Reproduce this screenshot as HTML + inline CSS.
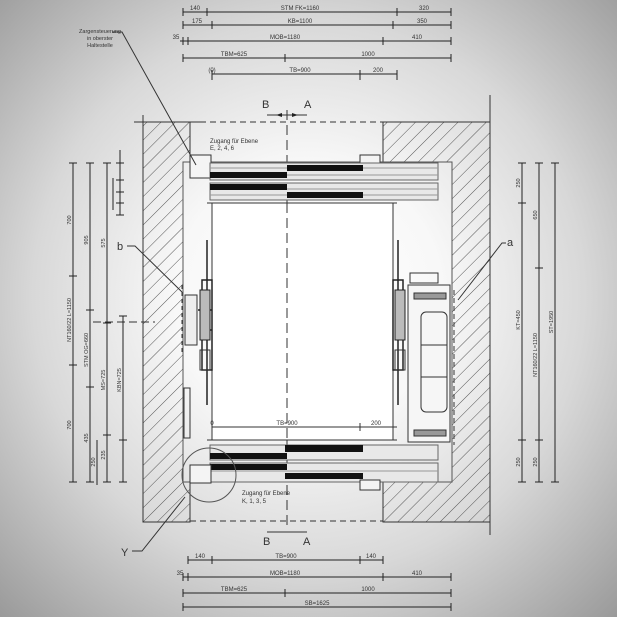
<!DOCTYPE html>
<html><head><meta charset="utf-8"><style>
html,body{margin:0;padding:0;width:617px;height:617px;overflow:hidden}
body{background:radial-gradient(ellipse 72% 72% at 50% 48%,#ffffff 0%,#f8f8f8 30%,#d8d8d8 62%,#9a9a9a 100%)}
svg{position:absolute;left:0;top:0}
text{font-family:"Liberation Sans",sans-serif;fill:#333}
</style></head><body>
<svg width="617" height="617" viewBox="0 0 617 617" xmlns="http://www.w3.org/2000/svg">
<defs>
<pattern id="h" patternUnits="userSpaceOnUse" width="10" height="10" patternTransform="rotate(45)">
<line x1="0" y1="0" x2="0" y2="10" stroke="#555" stroke-width="1"/>
</pattern>
<marker id="ar" markerWidth="6" markerHeight="4" refX="6" refY="2" orient="auto"><path d="M0,0 L6,2 L0,4z" fill="#222"/></marker>
</defs>
<g stroke="#333" stroke-width="1" fill="none">
<path d="M143,122 H190 V162 H183 V482 H190 V522 H143 Z" fill="url(#h)"/>
<path d="M383,122 H490 V522 H383 V482 H452 V162 H383 Z" fill="url(#h)"/>
<line x1="190" y1="122" x2="383" y2="122" stroke-dasharray="6,4"/>
<line x1="190" y1="521" x2="383" y2="521" stroke-dasharray="6,4"/>
<line x1="287" y1="110" x2="287" y2="530" stroke-dasharray="10,5"/>
<line x1="134" y1="122" x2="200" y2="122"/>
<line x1="143" y1="115" x2="143" y2="130"/>
<line x1="490" y1="95" x2="490" y2="122"/>
<line x1="490" y1="522" x2="490" y2="535"/>
<rect x="183" y="162" width="269" height="320" stroke="#555"/>
<rect x="190" y="155" width="21" height="23" fill="#f4f4f4"/>
<rect x="360" y="155" width="20" height="10" fill="#f4f4f4"/>
<rect x="210" y="163" width="228" height="17" fill="#e8e8e8" stroke="#666"/>
<line x1="210" y1="168" x2="438" y2="168" stroke="#999"/>
<line x1="210" y1="175" x2="438" y2="175" stroke="#999"/>
<rect x="210" y="172" width="77" height="6" fill="#111" stroke="none"/>
<rect x="287" y="165" width="76" height="6" fill="#111" stroke="none"/>
<rect x="210" y="183" width="228" height="17" fill="#e8e8e8" stroke="#666"/>
<line x1="210" y1="189" x2="438" y2="189" stroke="#999"/>
<line x1="210" y1="195" x2="438" y2="195" stroke="#999"/>
<rect x="210" y="184" width="77" height="6" fill="#111" stroke="none"/>
<rect x="287" y="192" width="76" height="6" fill="#111" stroke="none"/>
<line x1="207" y1="203" x2="397" y2="203"/>
<rect x="212" y="203" width="181" height="237" fill="#fff"/>
<line x1="287" y1="203" x2="287" y2="440" stroke-dasharray="10,5"/>
<path d="M207,240 V405 M202,280 H212 V370 H202 Z M198,310 H212 M200,330 H212" stroke="#222" stroke-width="1.5"/>
<rect x="200" y="290" width="10" height="50" fill="#bbb" stroke="#222"/>
<rect x="185" y="295" width="12" height="50" fill="#eee"/>
<line x1="182" y1="285" x2="182" y2="355" stroke-dasharray="4,3"/>
<rect x="200" y="350" width="10" height="20"/>
<path d="M398,240 V405 M393,280 H403 V370 H393 Z" stroke="#222" stroke-width="1.5"/>
<rect x="395" y="290" width="10" height="50" fill="#bbb" stroke="#222"/>
<rect x="395" y="350" width="10" height="20"/>
<rect x="408" y="285" width="42" height="157" fill="#f6f6f6"/>
<rect x="410" y="273" width="28" height="10"/>
<rect x="421" y="312" width="26" height="100" rx="5"/>
<line x1="421" y1="345" x2="447" y2="345"/>
<line x1="421" y1="377" x2="447" y2="377"/>
<rect x="414" y="293" width="32" height="6" fill="#999"/>
<rect x="414" y="430" width="32" height="6" fill="#999"/>
<line x1="454" y1="290" x2="454" y2="445" stroke-dasharray="5,3"/>
<rect x="184" y="388" width="6" height="50"/>
<line x1="212" y1="427" x2="397" y2="427"/>
<line x1="360" y1="423" x2="360" y2="431"/>
<line x1="207" y1="440" x2="397" y2="440"/>
<rect x="210" y="445" width="228" height="15" fill="#e8e8e8" stroke="#666"/>
<rect x="285" y="445" width="78" height="7" fill="#111" stroke="none"/>
<rect x="210" y="453" width="77" height="6" fill="#111" stroke="none"/>
<rect x="210" y="463" width="228" height="19" fill="#e8e8e8" stroke="#666"/>
<line x1="210" y1="471" x2="438" y2="471" stroke="#999"/>
<rect x="210" y="464" width="77" height="6" fill="#111" stroke="none"/>
<rect x="285" y="473" width="78" height="6" fill="#111" stroke="none"/>
<rect x="190" y="465" width="21" height="18" fill="#f4f4f4"/>
<rect x="360" y="480" width="20" height="10" fill="#f4f4f4"/>
<circle cx="209" cy="475" r="27" stroke="#555"/>
<path d="M112,32 H122 L196,165"/>
<path d="M127,246 H135 L182,292"/>
<path d="M506,243 H502 L458,300"/>
<path d="M132,551 H142 L185,497"/>
<line x1="93" y1="322" x2="155" y2="322" stroke-dasharray="8,4"/>
<line x1="267" y1="115" x2="307" y2="115"/>
<line x1="287" y1="115" x2="276" y2="115" marker-end="url(#ar)"/>
<line x1="287" y1="115" x2="298" y2="115" marker-end="url(#ar)"/>
<line x1="267" y1="532" x2="307" y2="532"/>
<g stroke="#222">
<line x1="183" y1="12" x2="451" y2="12"/><path d="M183,8V16M207,8V16M397,8V16M451,8V16"/>
<line x1="183" y1="25" x2="451" y2="25"/><path d="M183,21V29M212,21V29M393,21V29M451,21V29"/>
<line x1="180" y1="41" x2="451" y2="41"/><path d="M183,37V45M188,37V45M383,37V45M451,37V45"/>
<line x1="183" y1="58" x2="451" y2="58"/><path d="M183,54V62M285,54V62M451,54V62"/>
<line x1="212" y1="74" x2="397" y2="74"/><path d="M212,70V80M360,70V80M397,70V80"/>
<line x1="188" y1="560" x2="383" y2="560"/><path d="M188,556V564M212,556V564M360,556V564M383,556V564"/>
<line x1="183" y1="577" x2="451" y2="577"/><path d="M183,573V581M188,573V581M383,573V581M451,573V581"/>
<line x1="183" y1="593" x2="451" y2="593"/><path d="M183,589V597M285,589V597M451,589V597"/>
<line x1="183" y1="607" x2="451" y2="607"/><path d="M183,603V611M451,603V611"/>
<line x1="73" y1="163" x2="73" y2="482"/><path d="M69,163H77M69,276H77M69,365H77M69,482H77"/>
<line x1="90" y1="163" x2="90" y2="482"/><path d="M86,163H94M86,310H94M86,387H94M86,482H94"/>
<line x1="107" y1="163" x2="107" y2="482"/><path d="M103,163H111M103,323H111M103,435H111M103,482H111"/>
<line x1="123" y1="316" x2="123" y2="482"/><path d="M119,316H127M119,440H127M119,482H127"/>
<line x1="120" y1="150" x2="120" y2="215"/><path d="M116,163H124M116,180H124M116,192H124M116,203H124M116,215H124"/>
<line x1="113" y1="178" x2="113" y2="210"/>
<line x1="97" y1="440" x2="97" y2="485"/>
<line x1="522" y1="163" x2="522" y2="482"/><path d="M518,163H526M518,203H526M518,440H526M518,482H526"/>
<line x1="539" y1="163" x2="539" y2="482"/><path d="M535,163H543M535,268H543M535,440H543M535,482H543"/>
<line x1="555" y1="163" x2="555" y2="482"/><path d="M551,163H559M551,482H559"/>
</g>
</g>
<g font-size="6">
<text x="195" y="10" text-anchor="middle">140</text>
<text x="300" y="10" text-anchor="middle">STM FK=1160</text>
<text x="424" y="10" text-anchor="middle">320</text>
<text x="197" y="23" text-anchor="middle">175</text>
<text x="300" y="23" text-anchor="middle">KB=1100</text>
<text x="422" y="23" text-anchor="middle">350</text>
<text x="176" y="39" text-anchor="middle">35</text>
<text x="285" y="39" text-anchor="middle">MOB=1180</text>
<text x="417" y="39" text-anchor="middle">410</text>
<text x="234" y="56" text-anchor="middle">TBM=625</text>
<text x="368" y="56" text-anchor="middle">1000</text>
<text x="212" y="72" text-anchor="middle">(0)</text>
<text x="300" y="72" text-anchor="middle">TB=900</text>
<text x="378" y="72" text-anchor="middle">200</text>
<text x="200" y="558" text-anchor="middle">140</text>
<text x="286" y="558" text-anchor="middle">TB=900</text>
<text x="371" y="558" text-anchor="middle">140</text>
<text x="180" y="575" text-anchor="middle">35</text>
<text x="285" y="575" text-anchor="middle">MOB=1180</text>
<text x="417" y="575" text-anchor="middle">410</text>
<text x="234" y="591" text-anchor="middle">TBM=625</text>
<text x="368" y="591" text-anchor="middle">1000</text>
<text x="317" y="605" text-anchor="middle">SB=1625</text>
<text x="287" y="425" text-anchor="middle">TB=900</text>
<text x="376" y="425" text-anchor="middle">200</text>
<text x="212" y="425" text-anchor="middle">0</text>
<text x="210" y="143">Zugang für Ebene</text>
<text x="210" y="150">E, 2, 4, 6</text>
<text x="242" y="495">Zugang für Ebene</text>
<text x="242" y="503">K, 1, 3, 5</text>
<text x="100" y="33" text-anchor="middle" font-size="5.5">Zargensteuerung</text>
<text x="100" y="40" text-anchor="middle" font-size="5.5">in oberster</text>
<text x="100" y="47" text-anchor="middle" font-size="5.5">Haltestelle</text>
</g>
<g font-size="5.5" text-anchor="middle">
<text transform="translate(71,220) rotate(-90)">700</text>
<text transform="translate(71,320) rotate(-90)">NT160/22 L=1150</text>
<text transform="translate(71,425) rotate(-90)">700</text>
<text transform="translate(88,240) rotate(-90)">905</text>
<text transform="translate(88,350) rotate(-90)">STM OG=660</text>
<text transform="translate(88,438) rotate(-90)">435</text>
<text transform="translate(105,243) rotate(-90)">575</text>
<text transform="translate(105,380) rotate(-90)">MS=725</text>
<text transform="translate(105,455) rotate(-90)">235</text>
<text transform="translate(121,380) rotate(-90)">KBN=725</text>
<text transform="translate(95,462) rotate(-90)">250</text>
<text transform="translate(520,183) rotate(-90)">250</text>
<text transform="translate(520,320) rotate(-90)">KT=450</text>
<text transform="translate(520,462) rotate(-90)">250</text>
<text transform="translate(537,215) rotate(-90)">650</text>
<text transform="translate(537,355) rotate(-90)">NT160/22 L=1150</text>
<text transform="translate(537,462) rotate(-90)">250</text>
<text transform="translate(553,322) rotate(-90)">ST=1950</text>
</g>
<g font-size="11">
<text x="262" y="108">B</text><text x="304" y="108">A</text>
<text x="263" y="545">B</text><text x="303" y="545">A</text>
<text x="117" y="250">b</text>
<text x="507" y="246">a</text>
<text x="121" y="556">Y</text>
</g>
</svg>
</body></html>
